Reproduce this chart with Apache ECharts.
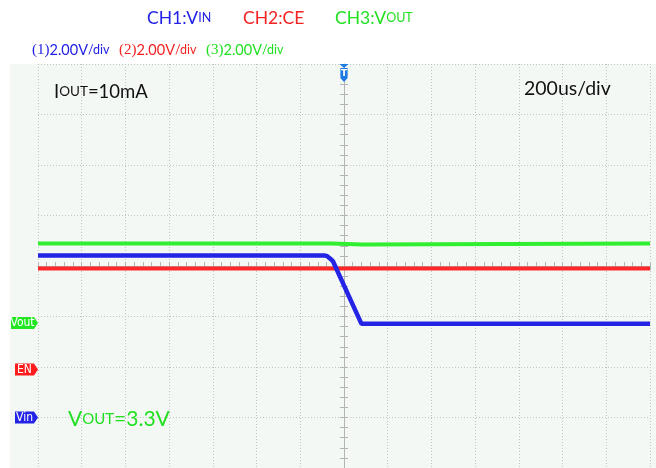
<!DOCTYPE html>
<html><head><meta charset="utf-8">
<script src="https://cdn.jsdelivr.net/npm/echarts@6/dist/echarts.min.js"></script>
<style>html,body{margin:0;padding:0;background:#fff}#c{width:656px;height:468px}</style>
</head><body><div id="c"></div>
<script>
// ---- data (time in us, values in V) ----
const ch1Time = [-1400, -90, -77, -64, -50, 80, 1400];
const ch1Volt = [6.42, 6.42, 6.39, 6.30, 6.18, 3.71, 3.71];
const ch2Time = [-1400, 1400];
const ch2Volt = [4.0, 4.0];
const ch3Time = [-1400, -58, -52, 86, 92, 1400];
const ch3Volt = [3.15, 3.15, 3.11, 3.11, 3.15, 3.15];
const channelNames = ['Vin', 'EN', 'Vout'];
const voltsPerDiv = [2, 2, 2];
const groundDiv = [-3.0, -2.05, -1.13];   // ground marker position in divisions from center
const timePerDiv = 200;               // us/div
const hDivs = 14, vDivs = 8;

const F = '"Lato","Open Sans",sans-serif';
const cBlue = '#2222e4', cRed = '#f42222', cGreen = '#22e022';
const traceBlue = '#2424e6', traceRed = '#ff2828', traceGreen = '#30ee30';
const gridRect = {left: 38, top: 64, width: 612, height: 404};
const dot = '#c4c4c4', edge = '#b4b4b4';

const chart = echarts.init(document.getElementById('c'), null, {renderer: 'canvas'});
const xMin = -timePerDiv * hDivs / 2, xMax = timePerDiv * hDivs / 2;
function zip(a, b) { return a.map((t, i) => [t, b[i]]); }

const grids = [];
for (let i = 0; i < 6; i++) grids.push(Object.assign({}, gridRect));

function hiddenX(g) { return {gridIndex: g, type: 'value', min: xMin, max: xMax, show: false}; }
function chY(i) {
  const v = voltsPerDiv[i], g = groundDiv[i];
  return {gridIndex: 3 + i, type: 'value', min: (-vDivs / 2 - g) * v, max: (vDivs / 2 - g) * v, show: false};
}
const tickStyle = {color: edge, width: 1};

const option = {
  animation: false,
  backgroundColor: '#ffffff',
  grid: grids,
  xAxis: [
    {gridIndex: 0, type: 'value', min: xMin, max: xMax, interval: timePerDiv, position: 'bottom',
     axisLine: {show: false}, axisLabel: {show: false},
     axisTick: {show: true, inside: true, length: 4, lineStyle: tickStyle},
     minorTick: {show: true, splitNumber: 5, length: 4, lineStyle: tickStyle},
     splitLine: {show: true, lineStyle: {color: dot, type: [1, 2], width: 1}}},
    {gridIndex: 0, type: 'value', min: xMin, max: xMax, interval: timePerDiv, position: 'top',
     axisLine: {show: true, lineStyle: {color: edge, width: 1}}, axisLabel: {show: false},
     axisTick: {show: true, inside: true, length: 4, lineStyle: tickStyle},
     minorTick: {show: true, splitNumber: 5, length: 4, lineStyle: tickStyle},
     splitLine: {show: false}},
    {gridIndex: 1, type: 'value', min: xMin, max: xMax, interval: timePerDiv,
     axisLine: {show: false, onZero: true}, axisLabel: {show: false},
     axisTick: {show: true, inside: true, length: 3, lineStyle: tickStyle},
     minorTick: {show: true, splitNumber: 5, length: 3, lineStyle: tickStyle},
     splitLine: {show: false}},
    {gridIndex: 2, type: 'value', min: xMin, max: xMax, interval: timePerDiv,
     axisLine: {show: false, onZero: true}, axisLabel: {show: false},
     axisTick: {show: true, inside: false, length: 3, lineStyle: tickStyle},
     minorTick: {show: true, splitNumber: 5, length: 3, lineStyle: tickStyle},
     splitLine: {show: false}},
    hiddenX(3), hiddenX(4), hiddenX(5)
  ],
  yAxis: [
    {gridIndex: 0, type: 'value', min: -vDivs / 2, max: vDivs / 2, interval: 1, position: 'left',
     axisLine: {show: true, lineStyle: {color: edge, width: 1}}, axisLabel: {show: false},
     axisTick: {show: true, inside: true, length: 4, lineStyle: tickStyle},
     minorTick: {show: true, splitNumber: 5, length: 4, lineStyle: tickStyle},
     splitLine: {show: true, lineStyle: {color: dot, type: [1, 2], width: 1}}},
    {gridIndex: 0, type: 'value', min: -vDivs / 2, max: vDivs / 2, interval: 1, position: 'right',
     axisLine: {show: false}, axisLabel: {show: false},
     axisTick: {show: true, inside: true, length: 4, lineStyle: tickStyle},
     minorTick: {show: true, splitNumber: 5, length: 4, lineStyle: tickStyle},
     splitLine: {show: false}},
    {gridIndex: 1, type: 'value', min: -vDivs / 2, max: vDivs / 2, interval: 1,
     axisLine: {show: false, onZero: true}, axisLabel: {show: false},
     axisTick: {show: true, inside: true, length: 3, lineStyle: tickStyle},
     minorTick: {show: true, splitNumber: 5, length: 3, lineStyle: tickStyle},
     splitLine: {show: false}},
    {gridIndex: 2, type: 'value', min: -vDivs / 2, max: vDivs / 2, interval: 1,
     axisLine: {show: false, onZero: true}, axisLabel: {show: false},
     axisTick: {show: true, inside: false, length: 3, lineStyle: tickStyle},
     minorTick: {show: true, splitNumber: 5, length: 3, lineStyle: tickStyle},
     splitLine: {show: false}},
    chY(0), chY(1), chY(2)
  ],
  series: [
    {name: 'CH2', type: 'line', xAxisIndex: 5, yAxisIndex: 5, data: zip(ch2Time, ch2Volt),
     showSymbol: false, symbol: 'none', lineStyle: {color: traceRed, width: 4}, z: 3},
    {name: 'CH3', type: 'line', xAxisIndex: 6, yAxisIndex: 6, data: zip(ch3Time, ch3Volt),
     showSymbol: false, symbol: 'none', lineStyle: {color: traceGreen, width: 4}, z: 4},
    {name: 'CH1', type: 'line', xAxisIndex: 4, yAxisIndex: 4, data: zip(ch1Time, ch1Volt),
     showSymbol: false, symbol: 'none', lineStyle: {color: traceBlue, width: 4.5}, z: 5}
  ]
};
chart.setOption(option);

// ---- decorations computed from axes ----
const g = [];
g.push({type: 'rect', shape: {x: 10, y: 64, width: 646, height: 404}, style: {fill: '#f4f8f5'}, z: -100, silent: true});

function rt(x, y, text, rich, z) {
  return {type: 'text', x: x, y: y, z: z || 50, style: {text: text, rich: rich, verticalAlign: 'middle', align: 'left'}};
}
const big = 17.5, small = 12.5;
g.push(rt(147, 18, '{a|CH1:V}{b|IN}', {a: {fontFamily: F, fontSize: big, fill: cBlue}, b: {fontFamily: F, fontSize: small, fill: cBlue}}));
g.push(rt(243, 18, '{a|CH2:CE}', {a: {fontFamily: F, fontSize: big, fill: cRed}}));
g.push(rt(335, 18, '{a|CH3:V}{b|OUT}', {a: {fontFamily: F, fontSize: big, fill: cGreen}, b: {fontFamily: F, fontSize: small, fill: cGreen}}));

function scaleTxt(x, n, col) {
  return rt(x, 50, '{p|(' + n + ')}{v|2.00V}{d|/div}', {
    p: {fontFamily: '"Liberation Serif","DejaVu Serif",serif', fontSize: 15, fill: col},
    v: {fontFamily: F, fontSize: 14.5, fill: col},
    d: {fontFamily: F, fontSize: 12.5, fill: col}
  });
}
g.push(scaleTxt(32, 1, cBlue));
g.push(scaleTxt(119, 2, cRed));
g.push(scaleTxt(206, 3, cGreen));

g.push(rt(54, 92, '{a|I}{b|OUT}{a|=10mA}', {a: {fontFamily: F, fontSize: 18.5, fill: '#111'}, b: {fontFamily: F, fontSize: 13.5, fill: '#111'}}));
g.push(rt(524, 89, '{a|200us/div}', {a: {fontFamily: F, fontSize: 19.5, fill: '#111'}}));
g.push(rt(68, 419, '{a|V}{b|OUT}{a|=3.3V}', {a: {fontFamily: F, fontSize: 21, fill: cGreen}, b: {fontFamily: F, fontSize: 15, fill: cGreen}}));

// channel ground markers
const markerCols = [traceBlue, '#ff1c1c', '#22e622'];
const markerLeft = [15, 15, 11];
for (let i = 0; i < 3; i++) {
  const py = chart.convertToPixel({yAxisIndex: 4 + i}, 0);
  const px = gridRect.left;
  const L = markerLeft[i];
  g.push({type: 'polygon', z: 60, shape: {points: [[L, py - 6], [px - 4, py - 6], [px, py], [px - 4, py + 6], [L, py + 6]]},
          style: {fill: markerCols[i]}});
  g.push({type: 'text', z: 61, x: (L + px - 4) / 2, y: py, style: {text: channelNames[i], fill: '#fff',
          fontFamily: '"Liberation Sans Narrow","DejaVu Sans Condensed",sans-serif', fontSize: 12, align: 'center', verticalAlign: 'middle'}});
}

// trigger marker
const tx = chart.convertToPixel({xAxisIndex: 0}, 0);
const ty = gridRect.top;
g.push({type: 'polygon', z: 60, shape: {points: [[tx - 4.5, ty], [tx + 4.5, ty], [tx, ty + 4]]}, style: {fill: '#1e7be2'}});
g.push({type: 'polygon', z: 60, shape: {points: [[tx - 3.6, ty + 4], [tx + 3.6, ty + 4], [tx + 3.6, ty + 14], [tx, ty + 18], [tx - 3.6, ty + 14]]}, style: {fill: '#1e7be2'}});
g.push({type: 'text', z: 61, x: tx, y: ty + 10, style: {text: 'T', fill: '#fff', fontFamily: 'DejaVu Sans', fontSize: 9, fontWeight: 'bold', align: 'center', verticalAlign: 'middle'}});

chart.setOption({graphic: g});
</script></body></html>
